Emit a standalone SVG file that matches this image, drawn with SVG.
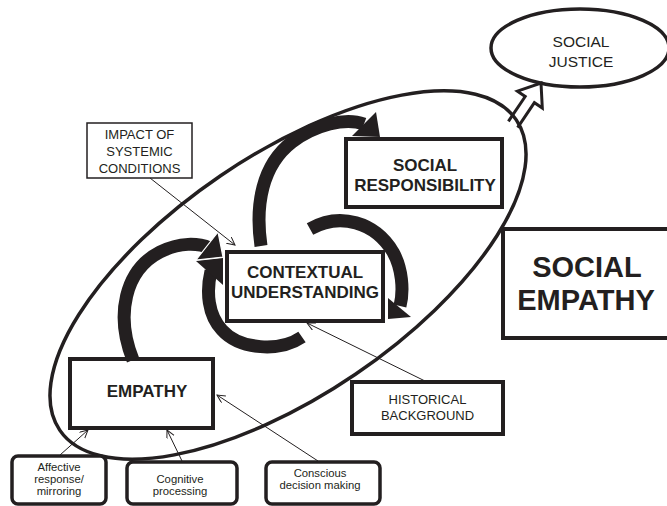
<svg xmlns="http://www.w3.org/2000/svg" width="667" height="506" viewBox="0 0 667 506">
<style>
.box{fill:#fff;stroke:#231f20;stroke-width:4}
.thin{fill:#fff;stroke:#231f20;stroke-width:1.5}
.rbox{fill:#fff;stroke:#231f20;stroke-width:3.5}
.t{font-family:"Liberation Sans",Arial,Helvetica,sans-serif;fill:#231f20;text-anchor:middle}
.b{font-weight:bold}
.band{fill:none;stroke:#231f20;stroke-width:13}
.head{fill:#231f20}
.conn{fill:none;stroke:#231f20;stroke-width:1;marker-end:url(#open)}
</style>
<defs>
<marker id="open" markerWidth="10" markerHeight="10" refX="8" refY="4" orient="auto" markerUnits="userSpaceOnUse"><path d="M0,0 L8,4 L0,8" fill="none" stroke="#231f20" stroke-width="1"/></marker>
</defs>
<rect width="667" height="506" fill="#fff"/>

<g id="social-justice">
<ellipse cx="580" cy="48" rx="89" ry="39" fill="#fff" stroke="#231f20" stroke-width="3.5"/>
<text class="t" x="581" y="47" font-size="15.5">SOCIAL</text>
<text class="t" x="581" y="67" font-size="15.5">JUSTICE</text>
</g>

<g id="connectors">
<path d="M508.4,121.4 L525.2,96.5 L517.4,91.2 L541,83 L542.3,108 L534.4,102.7 L517.6,127.6" fill="#fff" stroke="#231f20" stroke-width="3"/>
</g>

<g id="social-empathy-ellipse">
<ellipse cx="288" cy="275" rx="276" ry="120" transform="rotate(-34.2 288 275)" fill="none" stroke="#231f20" stroke-width="3.5"/>
</g>

<g id="social-responsibility">
<rect class="box" x="346" y="139" width="156" height="68"/>
<text class="t b" x="425" y="171" font-size="17">SOCIAL</text>
<text class="t b" x="425" y="191" font-size="17">RESPONSIBILITY</text>
</g>

<g id="contextual-understanding">
<rect class="box" x="227" y="252" width="156" height="69"/>
<text class="t b" x="305" y="278" font-size="17">CONTEXTUAL</text>
<text class="t b" x="305" y="298" font-size="17">UNDERSTANDING</text>
</g>

<g id="empathy">
<rect class="box" x="70" y="359" width="143" height="69"/>
<text class="t b" x="147" y="397" font-size="17">EMPATHY</text>
</g>

<g id="social-empathy">
<rect class="box" x="503" y="229" width="170" height="109"/>
<text class="t b" x="587" y="277" font-size="29">SOCIAL</text>
<text class="t b" x="586" y="310" font-size="29">EMPATHY</text>
</g>

<g id="impact">
<rect class="thin" x="87" y="123" width="105" height="55"/>
<text class="t" x="139.5" y="139" font-size="13">IMPACT OF</text>
<text class="t" x="139.5" y="156" font-size="13">SYSTEMIC</text>
<text class="t" x="139.5" y="173" font-size="13">CONDITIONS</text>
</g>

<g id="historical">
<rect class="box" x="352" y="382" width="151" height="52"/>
<text class="t" x="427.5" y="404" font-size="13">HISTORICAL</text>
<text class="t" x="427.5" y="420" font-size="13">BACKGROUND</text>
</g>

<g id="affective">
<rect class="rbox" x="12" y="456" width="94" height="48" rx="6"/>
<text class="t" x="59" y="471" font-size="11.3">Affective</text>
<text class="t" x="59" y="483" font-size="11.3">response/</text>
<text class="t" x="59" y="495" font-size="11.3">mirroring</text>
</g>

<g id="cognitive">
<rect class="rbox" x="127" y="462" width="110" height="42" rx="6"/>
<text class="t" x="180" y="483" font-size="11.3">Cognitive</text>
<text class="t" x="180" y="495" font-size="11.3">processing</text>
</g>

<g id="conscious">
<rect class="rbox" x="266" y="462" width="114" height="42" rx="6"/>
<text class="t" x="320" y="477" font-size="11.3">Conscious</text>
<text class="t" x="320" y="489" font-size="11.3">decision making</text>
</g>

<g id="cycle-arrows">
<path class="band" d="M302,337 C280,352 240,350 222,330 C208,315 206,292 211,271"/>
<polygon class="head" points="196,261 223,258 223,285"/>
<path class="band" d="M133,360 C115,315 125,270 160,252 C180,242 198,243 210,248"/>
<polygon class="head" points="218,232 196,260 223,257" stroke="#fff" stroke-width="1.2"/>
<path class="band" d="M261,246 C255,205 262,165 292,142 C315,125 345,117 364,124"/>
<polygon class="head" points="376,112 352,136 380,137"/>
<path class="band" d="M310,229 C340,212 375,222 393,252 C402,268 404,290 400,306"/>
<polygon class="head" points="388,298 411,317 388,319"/>
</g>

<g id="links">
<line class="conn" x1="150" y1="178" x2="235" y2="245"/>
<line class="conn" x1="427" y1="382" x2="307" y2="323"/>
<line class="conn" x1="60" y1="455" x2="88" y2="430"/>
<line class="conn" x1="182" y1="461" x2="167" y2="430"/>
<line class="conn" x1="318" y1="461" x2="217" y2="395"/>
</g>
</svg>
